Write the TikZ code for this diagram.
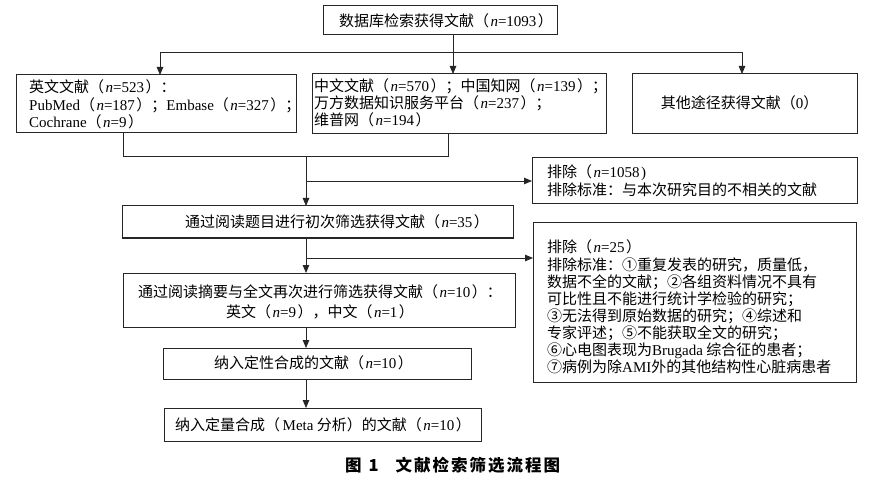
\documentclass[tikz,border=0pt]{standalone}
\usepackage{fontspec}
\setmainfont{Noto Sans CJK SC}
\newfontfamily\lat{Liberation Serif}
\usetikzlibrary{arrows.meta}
\newcommand\nv[1]{{\kern1.5pt\lat\textit{n}=#1\kern1.5pt}}
\newcommand\la[1]{{\lat #1}}
\begin{document}
\begin{tikzpicture}[x=1pt,y=-1pt,
 box/.style={draw=black!85, line width=1pt, inner sep=0pt, outer sep=0pt},
 txt/.style={inner sep=0pt, font=\fontsize{15}{17}\selectfont},
 line/.style={draw=black!85, line width=0.8pt},
 arr/.style={line, -{Triangle[length=8pt,width=6.5pt]}}]
\fill[white] (0,0) rectangle (878,481);
\useasboundingbox (0,0) rectangle (878,481);

% boxes
\node[box, minimum width=234pt, minimum height=29pt] (top) at (440,20.5) {};
\node[box, minimum width=280pt, minimum height=58pt] (lbox) at (156,104) {};
\node[box, minimum width=294pt, minimum height=60pt] (mbox) at (459,104) {};
\node[box, minimum width=225pt, minimum height=60pt] (rbox) at (744.5,104) {};
\node[box, minimum width=325pt, minimum height=46pt] (ex1) at (694.5,181) {};
\node[box, minimum width=391pt, minimum height=32pt] (b35) at (317.5,222) {};
\node[box, minimum width=323pt, minimum height=159pt] (ex2) at (694.5,302.5) {};
\node[box, minimum width=392pt, minimum height=54pt] (b10) at (319,300) {};
\node[box, minimum width=308pt, minimum height=31pt] (b4) at (317,363.5) {};
\node[box, minimum width=317pt, minimum height=33pt] (b5) at (322.5,424.5) {};

% texts
\node[txt] (ttop) at (446,20.5) {数据库检索获得文献（\nv{1093}）};
\node[txt, anchor=west, align=left, font=\fontsize{15}{17.5}\selectfont] (tl) at (29,104.5)
 {英文文献（\nv{523}）：\\ \la{PubMed}（\nv{187}）；\la{Embase}（\nv{327}）；\\ \la{Cochrane}（\nv{9}）};
\node[txt, anchor=west, align=left] (tm) at (314,103)
 {中文文献（\nv{570}）；中国知网（\nv{139}）；\\ 万方数据知识服务平台（\nv{237}）；\\ 维普网（\nv{194}）};
\node[txt] (tr) at (739.5,103) {其他途径获得文献（\la{0}）};
\node[txt, anchor=west, align=left, font=\fontsize{15}{18}\selectfont] (te1) at (547,181)
 {排除（\nv{1058}\la{)}\\ 排除标准：与本次研究目的不相关的文献};
\node[txt] (t35) at (337,222) {通过阅读题目进行初次筛选获得文献（\nv{35}）};
\node[txt, anchor=west, align=left, font=\fontsize{15}{17.1}\selectfont] (te2) at (547,307)
 {排除（\nv{25}）\\
  排除标准：①重复发表的研究，质量低，\\
  数据不全的文献；②各组资料情况不具有\\
  可比性且不能进行统计学检验的研究；\\
  ③无法得到原始数据的研究；④综述和\\
  专家评述；⑤不能获取全文的研究；\\
  ⑥心电图表现为\la{Brugada} 综合征的患者；\\
  ⑦病例为除\la{AMI}外的其他结构性心脏病患者};
\node[txt, align=center, font=\fontsize{15}{20}\selectfont] (t10) at (320,302)
 {通过阅读摘要与全文再次进行筛选获得文献（\nv{10}）：\\ 英文（\nv{9}），中文（\nv{1}）};
\node[txt] (t4) at (313.5,363) {纳入定性合成的文献（\nv{10}）};
\node[txt] (t5) at (323,425) {纳入定量合成（\,\la{Meta} 分析）的文献（\nv{10}）};
\node[anchor=west, inner sep=0pt, font=\fontsize{16.5}{18}\selectfont\bfseries] (cap) at (345,465)
 {图\kern7pt 1\kern17pt{\addfontfeature{LetterSpace=12}文献检索筛选流程图}};

% connectors
\coordinate (split) at (453,52);
\coordinate (xl) at (160,0);
\coordinate (xr) at (742,0);
\coordinate (xa) at (123,0);
\coordinate (xb) at (448,0);
\coordinate (join) at (306,156);
\coordinate (br1) at (306,181);
\coordinate (br2) at (306,258);

\draw[line] (top.south -| split) -- (split);
\draw[arr] (split) -| (lbox.north -| xl);
\draw[arr] (split) -- (mbox.north -| split);
\draw[arr] (split) -| (rbox.north -| xr);
\draw[line] (lbox.south -| xa) |- (join);
\draw[line] (mbox.south -| xb) |- (join);
\draw[arr] (join) -- (b35.north -| join);
\draw[arr] (br1) -- (ex1.west |- br1);
\draw[arr] (b35.south -| join) -- (b10.north -| join);
\draw[arr] (br2) -- (ex2.west |- br2);
\draw[arr] (b10.south -| join) -- (b4.north -| join);
\draw[arr] (b4.south -| join) -- (b5.north -| join);
\end{tikzpicture}
\end{document}
